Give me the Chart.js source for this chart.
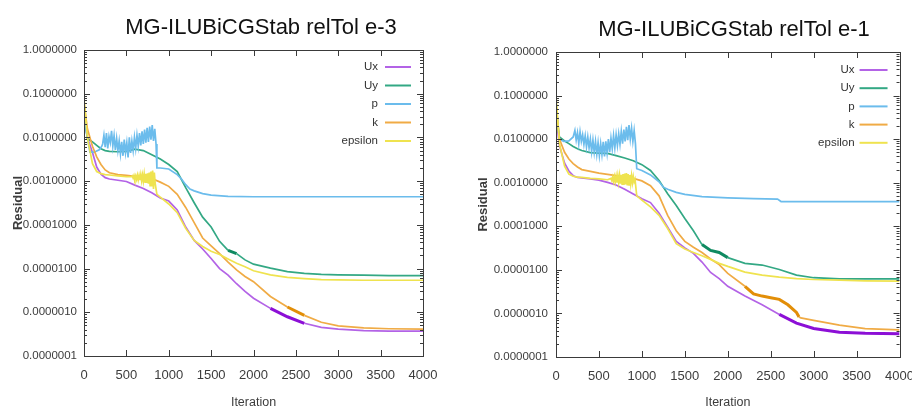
<!DOCTYPE html>
<html>
<head>
<meta charset="utf-8">
<title>Residuals</title>
<script src="https://cdn.jsdelivr.net/npm/chart.js@4.4.0/dist/chart.umd.min.js"></script>
<style>
  html, body { margin: 0; padding: 0; width: 912px; height: 410px; overflow: hidden; background: #fff; }
  .panel { position: absolute; top: 0; height: 410px; }
  .panel canvas { position: absolute; left: 0; top: 0; }
  .panel h2 {
    position: absolute; margin: 0; z-index: 2;
    font: 22px "Liberation Sans", Arial, sans-serif; color: #111;
    white-space: nowrap; transform: translate(-50%, -50%);
  }
</style>
</head>
<body>
<div class="panel" style="left:0;width:456px">
  <canvas id="chart-e3" width="456" height="410"></canvas>
  <h2 style="left:261px;top:27px">MG-ILUBiCGStab relTol e-3</h2>
</div>
<div class="panel" style="left:456px;width:470px">
  <canvas id="chart-e1" width="470" height="410"></canvas>
  <h2 style="left:278px;top:29px">MG-ILUBiCGStab relTol e-1</h2>
</div>

<script>
//AXIS TICKS
var iterTicks = [0, 500, 1000, 1500, 2000, 2500, 3000, 3500, 4000];
var residualTicks = [1e-7, 1e-6, 1e-5, 1e-4, 1e-3, 1e-2, 1e-1, 1];
var fieldNames = ["Ux", "Uy", "p", "k", "epsilon"];

//RELTOL E-3 RESIDUALS
var itE3 = [0, 40, 100, 150, 200, 250, 300, 400, 500, 600, 700, 800, 900, 1000, 1100, 1200,
  1300, 1400, 1500, 1600, 1700, 1800, 1900, 2000, 2200, 2400, 2600, 2800, 3000, 3300, 3600, 4000];
var uxE3 = [3.2e-2, 1.0e-2, 4.5e-3, 2.1e-3, 1.45e-3, 1.2e-3, 1.12e-3, 1.05e-3, 9.8e-4, 8.1e-4, 6.8e-4, 5.4e-4, 4.1e-4, 3.5e-4, 2.2e-4, 8.9e-5,
  4.4e-5, 2.8e-5, 1.7e-5, 1.0e-5, 7.1e-6, 4.5e-6, 3.0e-6, 2.1e-6, 1.23e-6, 7.9e-7, 5.6e-7, 4.5e-7, 4.1e-7, 3.8e-7, 3.7e-7, 3.7e-7];
var uyE3 = [4.0e-2, 9.5e-3, 7.9e-3, 6.6e-3, 5.5e-3, 5.0e-3, 4.8e-3, 4.7e-3, 4.8e-3, 5.4e-3, 5.0e-3, 4.0e-3, 3.2e-3, 2.4e-3, 1.66e-3, 7.1e-4,
  3.2e-4, 1.5e-4, 8.9e-5, 4.2e-5, 2.6e-5, 2.2e-5, 1.58e-5, 1.26e-5, 1.02e-5, 8.5e-6, 7.8e-6, 7.4e-6, 7.2e-6, 7.1e-6, 6.9e-6, 6.9e-6];
var kE3 = [6.3e-2, 1.58e-2, 6.3e-3, 3.6e-3, 2.4e-3, 1.8e-3, 1.55e-3, 1.41e-3, 1.35e-3, 1.29e-3, 1.23e-3, 1.15e-3, 9.5e-4, 7.6e-4, 5.0e-4, 2.5e-4,
  1.12e-4, 5.0e-5, 3.3e-5, 2.2e-5, 1.41e-5, 9.3e-6, 6.6e-6, 5.0e-6, 2.3e-6, 1.32e-6, 8.5e-7, 5.9e-7, 4.9e-7, 4.4e-7, 4.2e-7, 4.1e-7];
var pItE3 = [0, 30, 70, 120, 180, 210,
  220, 235, 250, 265, 280, 295, 310, 325, 340, 355, 370, 385, 400, 415, 430, 445, 460, 475, 490, 505, 520, 535,
  550, 565, 580, 595, 610, 625, 640, 655, 670, 685, 700, 715, 730, 745, 760, 775, 790, 805, 820, 835, 850,
  860, 900, 1000, 1100, 1150, 1200, 1250, 1300, 1400, 1500, 1700, 2000, 4000];
var pE3 = [5.0e-2, 1.26e-2, 4.6e-3, 4.6e-3, 5.2e-3, 6.3e-3,
  7.1e-3, 1.12e-2, 6.0e-3, 1.26e-2, 5.6e-3, 1.05e-2, 7.6e-3, 1.41e-2, 6.3e-3, 1.1e-2, 5.2e-3, 9.5e-3, 5.0e-3, 8.3e-3, 4.2e-3, 7.9e-3, 3.8e-3, 8.9e-3, 4.5e-3, 7.6e-3, 3.5e-3, 1.0e-2,
  4.4e-3, 8.3e-3, 5.0e-3, 1.0e-2, 5.6e-3, 1.12e-2, 6.3e-3, 1.26e-2, 6.6e-3, 1.38e-2, 7.1e-3, 1.51e-2, 7.6e-3, 1.66e-2, 7.9e-3, 1.78e-2, 8.9e-3, 1.91e-2, 8.3e-3, 1.58e-2, 7.1e-3,
  2.0e-3, 2.0e-3, 1.9e-3, 1.41e-3, 1.12e-3, 8.3e-4, 6.6e-4, 6.0e-4, 5.2e-4, 4.8e-4, 4.5e-4, 4.4e-4, 4.4e-4];
var epsItE3 = [0, 40, 100, 150, 200, 250, 300, 400, 500,
  560, 570, 580, 590, 600, 610, 620, 630, 640, 650, 660, 670, 680, 690, 700, 710, 720, 730, 740, 750, 760, 770, 780, 790, 800, 810, 820, 830, 840,
  860, 900, 1000, 1100, 1200, 1300, 1400, 1500, 1600, 1700, 1800, 1900, 2000, 2200, 2400, 2600, 2800, 3000, 3300, 3600, 4000];
var epsE3 = [7.9e-2, 1.0e-2, 2.5e-3, 1.66e-3, 1.48e-3, 1.41e-3, 1.38e-3, 1.32e-3, 1.26e-3,
  1.26e-3, 1.32e-3, 1.17e-3, 1.35e-3, 1.12e-3, 1.32e-3, 1.1e-3, 1.38e-3, 1.07e-3, 1.35e-3, 1.05e-3, 1.41e-3, 1.02e-3, 1.38e-3, 1.0e-3, 1.45e-3, 9.5e-4, 1.48e-3, 9.1e-4, 1.51e-3, 8.7e-4, 1.58e-3, 7.9e-4, 1.66e-3, 7.6e-4, 1.74e-3, 6.6e-4, 1.58e-3, 8.9e-4,
  5.0e-4, 4.3e-4, 3.0e-4, 1.9e-4, 8.3e-5, 4.4e-5, 3.2e-5, 2.5e-5, 2.1e-5, 1.66e-5, 1.32e-5, 1.1e-5, 8.9e-6, 7.2e-6, 6.3e-6, 5.9e-6, 5.6e-6, 5.5e-6, 5.4e-6, 5.4e-6, 5.4e-6];

//RELTOL E-1 RESIDUALS
var itE1 = itE3;
var uxE1 = [3.2e-2, 7.1e-3, 2.8e-3, 1.86e-3, 1.45e-3, 1.32e-3, 1.29e-3, 1.23e-3, 1.15e-3, 1.02e-3, 8.9e-4, 7.1e-4, 5.5e-4, 4.3e-4, 3.5e-4, 2.0e-4,
  9.5e-5, 4.5e-5, 3.2e-5, 2.4e-5, 1.51e-5, 8.7e-6, 6.3e-6, 4.2e-6, 2.5e-6, 1.58e-6, 9.5e-7, 6.0e-7, 4.5e-7, 3.7e-7, 3.5e-7, 3.4e-7];
var uyE1 = [3.2e-2, 1.12e-2, 9.1e-3, 7.9e-3, 6.8e-3, 6.0e-3, 5.5e-3, 4.9e-3, 4.8e-3, 4.7e-3, 4.2e-3, 3.7e-3, 3.2e-3, 2.6e-3, 1.91e-3, 1.12e-3,
  5.6e-4, 3.0e-4, 1.51e-4, 7.9e-5, 3.8e-5, 2.8e-5, 2.5e-5, 1.91e-5, 1.41e-5, 1.29e-5, 1.02e-5, 7.6e-6, 6.6e-6, 6.2e-6, 6.2e-6, 6.2e-6];
var kItE1 = [0, 40, 100, 150, 200, 250, 300, 400, 500, 600, 700, 800, 900, 1000, 1100, 1200, 1300, 1400, 1500,
  1600, 1700, 1800, 1900, 2000, 2200, 2300, 2400, 2500, 2600, 2700, 2800, 2830, 2850, 3000, 3300, 3600, 4000];
var kE1 = [6.3e-2, 1.0e-2, 5.0e-3, 3.5e-3, 2.75e-3, 2.3e-3, 2.0e-3, 1.82e-3, 1.66e-3, 1.55e-3, 1.45e-3, 1.38e-3, 1.26e-3, 1.1e-3, 8.5e-4, 5.0e-4, 1.78e-4, 7.9e-5, 4.5e-5,
  3.3e-5, 2.5e-5, 1.78e-5, 1.32e-5, 8.3e-6, 4.2e-6, 2.8e-6, 2.5e-6, 2.3e-6, 2.1e-6, 1.58e-6, 1.05e-6, 8.3e-7, 7.9e-7, 6.9e-7, 5.4e-7, 4.5e-7, 4.2e-7];
var pItE1 = [0, 40, 90, 150, 200,
  220, 235, 250, 265, 280, 295, 310, 325, 340, 355, 370, 385, 400, 415, 430, 445, 460, 475, 490, 505, 520, 535, 550, 565,
  580, 595, 610, 625, 640, 655, 670, 685, 700, 715, 730, 745, 760, 775, 790, 805, 820, 835, 850, 865, 880, 895, 910, 925,
  940, 1000, 1100, 1200, 1250, 1300, 1400, 1500, 1700, 2000, 2300, 2580, 2620, 4000];
var pE1 = [6.3e-2, 1.0e-2, 8.9e-3, 9.1e-3, 1.12e-2,
  1.58e-2, 9.5e-3, 1.41e-2, 7.9e-3, 1.48e-2, 8.9e-3, 1.26e-2, 7.6e-3, 1.2e-2, 6.6e-3, 1.12e-2, 6.3e-3, 1.0e-2, 5.2e-3, 9.5e-3, 5.0e-3, 8.9e-3, 4.5e-3, 8.3e-3, 4.2e-3, 7.9e-3, 4.4e-3, 8.7e-3, 4.0e-3,
  8.9e-3, 4.8e-3, 1.0e-2, 5.0e-3, 1.05e-2, 6.0e-3, 1.2e-2, 6.3e-3, 1.26e-2, 7.1e-3, 1.32e-2, 7.6e-3, 1.51e-2, 7.9e-3, 1.66e-2, 8.9e-3, 1.91e-2, 9.5e-3, 2.1e-2, 1.0e-2, 1.78e-2, 8.9e-3, 1.58e-2, 7.9e-3,
  2.1e-3, 1.9e-3, 1.51e-3, 1.05e-3, 7.9e-4, 7.1e-4, 6.0e-4, 5.4e-4, 4.8e-4, 4.5e-4, 4.3e-4, 4.2e-4, 3.7e-4, 3.7e-4];
var epsItE1 = [0, 40, 100, 150, 200, 250, 300, 400, 500, 600,
  640, 650, 660, 670, 680, 690, 700, 710, 720, 730, 740, 750, 760, 770, 780, 790, 800, 810, 820, 830, 840, 850, 860, 870, 880, 890, 900, 910, 920,
  940, 1000, 1100, 1200, 1300, 1400, 1500, 1600, 1700, 1800, 1900, 2000, 2200, 2400, 2600, 2800, 3000, 3300, 3600, 4000];
var epsE1 = [1.0e-1, 7.9e-3, 2.4e-3, 1.58e-3, 1.41e-3, 1.35e-3, 1.32e-3, 1.26e-3, 1.23e-3, 1.17e-3,
  1.26e-3, 1.12e-3, 1.35e-3, 1.07e-3, 1.38e-3, 1.05e-3, 1.41e-3, 1.0e-3, 1.45e-3, 1.02e-3, 1.48e-3, 9.5e-4, 1.51e-3, 9.3e-4, 1.58e-3, 8.9e-4, 1.62e-3, 9.1e-4, 1.66e-3, 8.7e-4, 1.58e-3, 8.9e-4, 1.51e-3, 9.5e-4, 1.45e-3, 1.0e-3, 1.38e-3, 1.05e-3, 1.2e-3,
  5.0e-4, 4.0e-4, 2.8e-4, 1.78e-4, 8.9e-5, 4.0e-5, 3.0e-5, 2.5e-5, 2.1e-5, 1.74e-5, 1.41e-5, 1.2e-5, 8.9e-6, 7.6e-6, 6.8e-6, 6.3e-6, 6.0e-6, 5.8e-6, 5.6e-6, 5.5e-6];

/*************************STYLE*******************/
var lineColors = { Ux: "#b363e6", Uy: "#33a884", p: "#6bbcec", k: "#f0ab45", epsilon: "#efe34f" };
var heavyColors = { Ux: "#8c0fd6", Uy: "#0f8a61", k: "#e28e08" };
var labelFont = '"Liberation Sans", Arial, sans-serif';

//turn two arrays into {x, y} points, with optional thick stretch
function series(name, its, vals, heavy) {
  var ds = {
    label: name,
    data: its.map(function (x, i) { return { x: x, y: vals[i] }; }),
    borderColor: lineColors[name],
    borderWidth: 1.7,
    pointRadius: 0,
    tension: 0,
    order: 5 - fieldNames.indexOf(name),
  };
  if (heavy) {
    var inside = function (c) { return c.p0.parsed.x >= heavy[0] && c.p1.parsed.x <= heavy[1]; };
    ds.segment = {
      borderWidth: function (c) { return inside(c) ? 3 : undefined; },
      borderColor: function (c) { return inside(c) ? heavyColors[name] : undefined; },
    };
  }
  return ds;
}

//gnuplot style box with inward ticks
var framePlugin = {
  id: "frame",
  afterDatasetsDraw: function (chart) {
    var ctx = chart.ctx, a = chart.chartArea, x = chart.scales.x, y = chart.scales.y;
    ctx.save();
    ctx.strokeStyle = "#3a3a3a";
    ctx.lineWidth = 1;
    ctx.strokeRect(Math.round(a.left) + 0.5, Math.round(a.top) + 0.5, Math.round(a.width), Math.round(a.height));
    ctx.beginPath();
    iterTicks.forEach(function (v) {
      var px = Math.round(x.getPixelForValue(v)) + 0.5;
      ctx.moveTo(px, a.bottom); ctx.lineTo(px, a.bottom - 6);
      ctx.moveTo(px, a.top); ctx.lineTo(px, a.top + 6);
    });
    residualTicks.forEach(function (dec) {
      for (var m = 1; m < 10; m++) {
        var v = dec * m;
        if (v > 1.0001) break;
        var py = Math.round(y.getPixelForValue(v)) + 0.5;
        var len = m === 1 ? 6 : 3;
        ctx.moveTo(a.left, py); ctx.lineTo(a.left + len, py);
        ctx.moveTo(a.right, py); ctx.lineTo(a.right - len, py);
      }
    });
    ctx.stroke();
    ctx.restore();
  },
};

//key in the top right corner, text left of the sample line
var keyPlugin = {
  id: "key",
  afterDatasetsDraw: function (chart, args, opts) {
    var ctx = chart.ctx, a = chart.chartArea;
    ctx.save();
    ctx.font = "11.5px " + labelFont;
    ctx.textAlign = "right";
    ctx.textBaseline = "middle";
    chart.data.datasets.forEach(function (ds, i) {
      var yy = a.top + opts.top + i * opts.gap;
      ctx.fillStyle = "#333";
      ctx.fillText(ds.label, a.right - 45, yy);
      ctx.strokeStyle = ds.borderColor;
      ctx.lineWidth = 2;
      ctx.beginPath();
      ctx.moveTo(a.right - opts.lineFrom, yy);
      ctx.lineTo(a.right - 12, yy);
      ctx.stroke();
    });
    ctx.restore();
  },
};

function makeConfig(datasets, box) {
  return {
    type: "line",
    data: { datasets: datasets },
    plugins: [framePlugin, keyPlugin],
    options: {
      responsive: false,
      animation: false,
      devicePixelRatio: 1,
      layout: { padding: { top: box.top, right: box.right, left: 0, bottom: 0 } },
      plugins: {
        legend: { display: false },
        tooltip: { enabled: false },
        key: { top: box.keyTop, gap: box.keyGap, lineFrom: box.lineFrom },
      },
      scales: {
        x: {
          type: "linear",
          min: 0,
          max: 4000,
          afterBuildTicks: function (s) { s.ticks = iterTicks.map(function (v) { return { value: v }; }); },
          afterFit: function (s) { s.height = box.xHeight; },
          grid: { display: false, drawTicks: false },
          border: { display: false },
          ticks: {
            autoSkip: false, maxRotation: 0, padding: 12, color: "#3c3c3c",
            font: { family: labelFont, size: 13 },
            callback: function (v) { return String(v); },
          },
          title: { display: true, text: "Iteration", color: "#3c3c3c", padding: 0, font: { family: labelFont, size: 12.5 } },
        },
        y: {
          type: "logarithmic",
          min: 1e-7,
          max: 1,
          afterBuildTicks: function (s) { s.ticks = residualTicks.map(function (v) { return { value: v }; }); },
          afterFit: function (s) { s.width = box.yWidth; },
          grid: { display: false, drawTicks: false },
          border: { display: false },
          ticks: {
            autoSkip: false,
            padding: box.yPad,
            color: "#3c3c3c",
            font: { family: labelFont, size: 11.5 },
            callback: function (v) { return Number(v).toFixed(7); },
          },
          title: {
            display: true, text: "Residual", color: "#3c3c3c",
            padding: { top: box.titlePad, bottom: 0 },
            font: { family: labelFont, size: 13, weight: "bold" },
          },
        },
      },
    },
  };
}

//ONLOAD
window.onload = function () {
  new Chart(document.getElementById("chart-e3").getContext("2d"), makeConfig([
    series("Ux", itE3, uxE3, [2200, 2760]),
    series("Uy", itE3, uyE3, [1640, 1810]),
    series("p", pItE3, pE3),
    series("k", itE3, kE3, [2300, 2600]),
    series("epsilon", epsItE3, epsE3),
  ], { top: 50, right: 33, xHeight: 54, yWidth: 84, yPad: 7, titlePad: 11, keyTop: 17, keyGap: 18.5, lineFrom: 38 }));

  new Chart(document.getElementById("chart-e1").getContext("2d"), makeConfig([
    series("Ux", itE1, uxE1, [2600, 4000]),
    series("Uy", itE1, uyE1, [1700, 2000]),
    series("p", pItE1, pE1),
    series("k", kItE1, kE1, [2200, 2830]),
    series("epsilon", epsItE1, epsE1),
  ], { top: 52, right: 24, xHeight: 53, yWidth: 100, yPad: 8, titlePad: 20, keyTop: 18, keyGap: 18.2, lineFrom: 40 }));
};
</script>
</body>
</html>
